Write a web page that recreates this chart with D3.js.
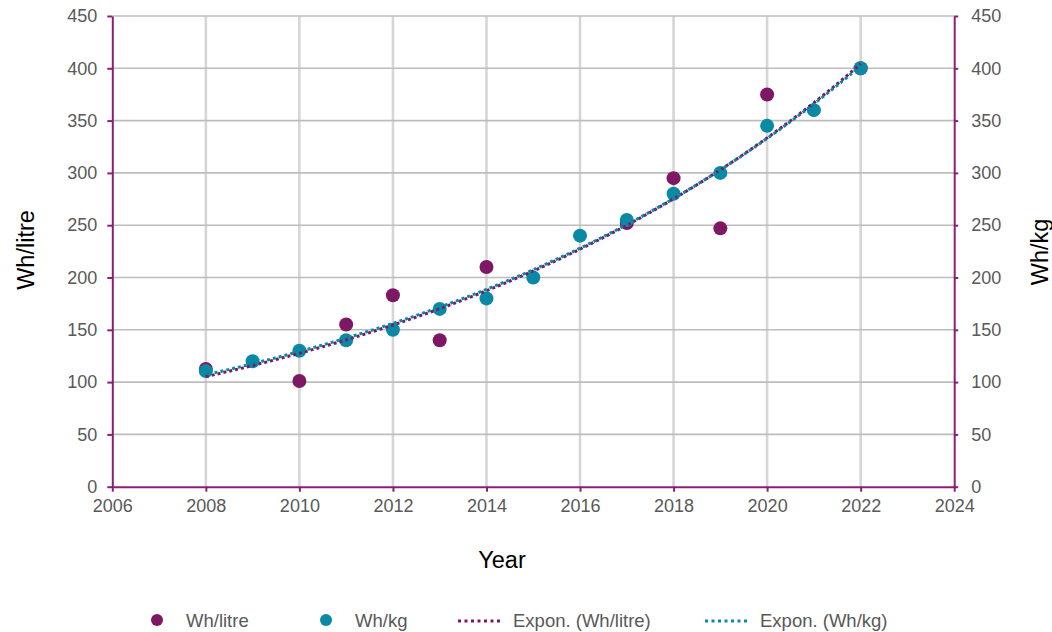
<!DOCTYPE html>
<html><head><meta charset="utf-8">
<script src="https://cdn.jsdelivr.net/npm/d3@7"></script>
<style>body{margin:0;background:#fff;} text{font-family:"Liberation Sans",Arial,sans-serif;}</style>
</head><body><svg id="c" width="1052" height="632"></svg>
<script>
const yearsLitre = [2008, 2010, 2011, 2012, 2013, 2014, 2017, 2018, 2019, 2020, 2022];
const whLitre    = [112.5, 101, 155, 183, 140, 210, 252, 295, 247, 375, 400];
const yearsKg    = [2008, 2009, 2010, 2011, 2012, 2013, 2014, 2015, 2016, 2017, 2018, 2019, 2020, 2021, 2022];
const whKg       = [110.5, 120, 130, 140, 150, 170, 180, 200, 240, 255, 280, 300, 345, 360, 400];
const xTicks = [2006, 2008, 2010, 2012, 2014, 2016, 2018, 2020, 2022, 2024];
const yTicks = [0, 50, 100, 150, 200, 250, 300, 350, 400, 450];

const purple = "#7e1865", teal = "#0a89a5", axisCol = "#8a1e78";
const svg = d3.select("#c");
const L = 112.3, R = 954.2, T = 16, B = 486.7;
const x = d3.scaleLinear().domain([2006, 2024]).range([L, R]);
const y = d3.scaleLinear().domain([0, 450]).range([B, T]);

// gridlines
svg.append("g").selectAll("line").data(xTicks.slice(1, -1)).join("line")
  .attr("x1", d => x(d)).attr("x2", d => x(d)).attr("y1", T).attr("y2", B)
  .attr("stroke", "#d6d6d6").attr("stroke-width", 2.6);
svg.append("g").selectAll("line").data(yTicks.slice(1)).join("line")
  .attr("x1", L).attr("x2", R).attr("y1", d => y(d)).attr("y2", d => y(d))
  .attr("stroke", "#bdbdbd").attr("stroke-width", 1.6);

// axes
function styleAxis(g) {
  g.select(".domain").attr("stroke", axisCol).attr("stroke-width", 2);
  g.selectAll(".tick line").attr("stroke", axisCol).attr("stroke-width", 2);
  g.selectAll(".tick text").attr("fill", "#595959").style("font-size", "18px")
    .style("font-family", "'Liberation Sans', Arial, sans-serif");
}
svg.append("g").attr("transform", `translate(${L},0)`)
  .call(d3.axisLeft(y).tickValues(yTicks).tickSize(5).tickSizeOuter(0).tickPadding(10).tickFormat(d3.format("d")))
  .call(styleAxis);
svg.append("g").attr("transform", `translate(${R},0)`)
  .call(d3.axisRight(y).tickValues(yTicks).tickSize(4).tickSizeOuter(0).tickPadding(13).tickFormat(d3.format("d")))
  .call(styleAxis);
svg.append("g").attr("transform", `translate(0,${B})`)
  .call(d3.axisBottom(x).tickValues(xTicks).tickSize(5).tickSizeOuter(0).tickPadding(8).tickFormat(d3.format("d")))
  .call(styleAxis);

// points
const litre = yearsLitre.map((d, i) => ({yr: d, v: whLitre[i]}));
const kg = yearsKg.map((d, i) => ({yr: d, v: whKg[i]}));
svg.append("g").selectAll("circle").data(litre).join("circle")
  .attr("cx", d => x(d.yr)).attr("cy", d => y(d.v)).attr("r", 7).attr("fill", purple);
svg.append("g").selectAll("circle").data(kg).join("circle")
  .attr("cx", d => x(d.yr)).attr("cy", d => y(d.v)).attr("r", 7).attr("fill", teal);

// exponential trendlines (least squares on ln y)
function expFit(data) {
  const mx = d3.mean(data, d => d.yr), my = d3.mean(data, d => Math.log(d.v));
  const b = d3.sum(data, d => (d.yr - mx) * (Math.log(d.v) - my)) / d3.sum(data, d => (d.yr - mx) ** 2);
  const a = my - b * mx;
  const [x0, x1] = d3.extent(data, d => d.yr);
  return d3.range(0, 101).map(i => { const t = x0 + (x1 - x0) * i / 100; return {yr: t, v: Math.exp(a + b * t)}; });
}
const line = d3.line().x(d => x(d.yr)).y(d => y(d.v));
svg.append("path").attr("d", line(expFit(litre))).attr("fill", "none")
  .attr("stroke", purple).attr("stroke-width", 3).attr("stroke-dasharray", "3,3");
svg.append("path").attr("d", line(expFit(kg))).attr("fill", "none")
  .attr("stroke", teal).attr("stroke-width", 3).attr("stroke-dasharray", "3,3").attr("stroke-dashoffset", 3);

// axis titles
svg.append("text").attr("transform", "translate(34,250) rotate(-90)").attr("text-anchor", "middle")
  .style("font-size", "23.5px").attr("fill", "#000").text("Wh/litre");
svg.append("text").attr("transform", "translate(1048,252) rotate(-90)").attr("text-anchor", "middle")
  .style("font-size", "23.5px").attr("fill", "#000").text("Wh/kg");
svg.append("text").attr("x", 502).attr("y", 568).attr("text-anchor", "middle")
  .style("font-size", "23.5px").attr("fill", "#000").text("Year");

// legend
const legendItems = [
  {label: "Wh/litre", color: purple, type: "dot", x: 157, tx: 186},
  {label: "Wh/kg", color: teal, type: "dot", x: 326, tx: 355},
  {label: "Expon. (Wh/litre)", color: purple, type: "line", x: 458, tx: 513},
  {label: "Expon. (Wh/kg)", color: teal, type: "line", x: 705, tx: 760}
];
const lg = svg.append("g");
legendItems.forEach(it => {
  if (it.type === "dot") lg.append("circle").attr("cx", it.x).attr("cy", 620).attr("r", 6).attr("fill", it.color);
  else lg.append("line").attr("x1", it.x).attr("x2", it.x + 45).attr("y1", 621).attr("y2", 621)
    .attr("stroke", it.color).attr("stroke-width", 3).attr("stroke-dasharray", "3,3.5");
  lg.append("text").attr("x", it.tx).attr("y", 627).style("font-size", "18.5px").attr("fill", "#595959").text(it.label);
});
</script></body></html>
